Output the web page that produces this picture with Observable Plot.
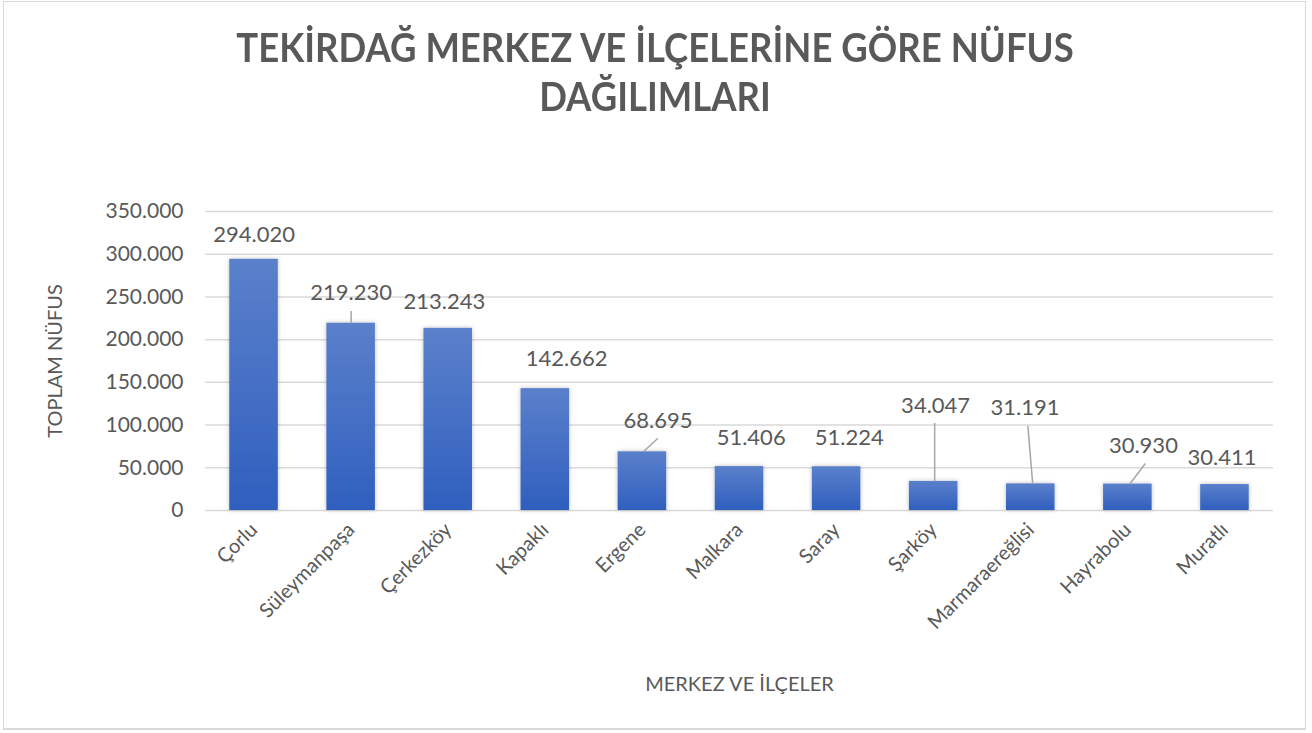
<!DOCTYPE html>
<html>
<head>
<meta charset="utf-8">
<script src="https://cdn.jsdelivr.net/npm/d3@7"></script>
<script src="https://cdn.jsdelivr.net/npm/@observablehq/plot@0.6"></script>
<style>
  html, body { margin: 0; padding: 0; background: #fff; }
  body { width: 1312px; height: 733px; position: relative; overflow: hidden; font-family: Lato, "Open Sans", sans-serif; }
  #frame { position: absolute; left: 3px; top: 1px; width: 1301px; height: 726px; border: 1px solid #d9d9d9; border-bottom: 2px solid #d9d9d9; box-sizing: content-box; }
  #title { position: absolute; left: 0; top: 22px; width: 1310px; text-align: center; font-family: Lato, sans-serif; font-weight: 700; font-size: 36.5px; line-height: 45px; color: #595959; transform: scaleY(1.1); transform-origin: 50% 0; }
  #chart { position: absolute; left: 0; top: 140px; }
</style>
</head>
<body>
<div id="frame"></div>
<div id="title">TEKİRDAĞ MERKEZ VE İLÇELERİNE GÖRE NÜFUS<br>DAĞILIMLARI</div>
<div id="chart"></div>
<script>
// Data
const districts = ["Çorlu", "Süleymanpaşa", "Çerkezköy", "Kapaklı", "Ergene", "Malkara", "Saray", "Şarköy", "Marmaraereğlisi", "Hayrabolu", "Muratlı"];
const population = [294020, 219230, 213243, 142662, 68695, 51406, 51224, 34047, 31191, 30930, 30411];
const yTicks = [0, 50000, 100000, 150000, 200000, 250000, 300000, 350000];
const yTitle = "TOPLAM NÜFUS";
const xTitle = "MERKEZ VE İLÇELER";

// Data-label placement (annotation layout, in data units: index offset, value)
const labelShift = [0, 0, -0.04, 0.22, 0.16, 0.12, 0.13, 0.02, -0.06, 0.16, -0.03];
const labelValue = [323000, 254500, 244000, 177500, 105000, 85500, 85000, 122500, 120500, 75000, 61000];
// leader lines: [index, startShift, startValue, endShift]
const leaders = [
  [1, 0, 233500, 0],
  [4, 0.16, 84500, 0.01],
  [7, 0.01, 102500, 0.01],
  [8, -0.03, 99000, 0.02],
  [9, 0.18, 55000, 0.02]
];

const fmt = v => d3.format(",")(v).replace(/,/g, ".");

const rows = districts.map((name, i) => ({
  i, name, value: population[i],
  lx: i + labelShift[i], ly: labelValue[i], label: fmt(population[i])
}));
const leaderRows = leaders.map(([i, s, v, e]) => ({x1: i + s, y1: v, x2: i + e, y2: population[i]}));

const textColor = "#595959";

const plot = Plot.plot({
  width: 1312,
  height: 580,
  marginLeft: 205,
  marginRight: 39,
  marginTop: 71,
  marginBottom: 210,
  style: {fontFamily: "Lato, 'Open Sans', sans-serif", color: textColor, background: "transparent"},
  x: {type: "linear", domain: [-0.5, districts.length - 0.5]},
  y: {domain: [0, 350000]},
  marks: [
    Plot.gridY(yTicks, {stroke: "#d9d9d9", strokeOpacity: 1, strokeWidth: 1.5}),
    Plot.axisY(yTicks, {tickSize: 0, tickPadding: 22, tickFormat: fmt, fontSize: 21, fill: textColor, label: null}),
    Plot.axisX(d3.range(districts.length), {
      tickSize: 0, tickPadding: 16, tickRotate: -45, tickFormat: i => districts[i],
      fontSize: 20, fill: textColor, label: null
    }),
    Plot.rectY(rows, {x1: d => d.i - 0.25, x2: d => d.i + 0.25, y: "value", fill: "url(#barGrad)"}),
    Plot.link(leaderRows, {x1: "x1", y1: "y1", x2: "x2", y2: "y2", stroke: "#a6a6a6", strokeWidth: 1.5}),
    Plot.text(rows, {x: "lx", y: "ly", text: "label", fontSize: 22, fill: textColor, lineAnchor: "middle", textAnchor: "middle"}),
    Plot.text([yTitle], {frameAnchor: "left", dx: -150, rotate: -90, fontSize: 20, fill: textColor, textAnchor: "middle"}),
    Plot.text([xTitle], {frameAnchor: "bottom", dy: 174, fontSize: 20, fill: textColor, textAnchor: "middle", lineAnchor: "middle"})
  ]
});

// gradient + shadow defs
const svg = d3.select(plot);
const defs = svg.insert("defs", ":first-child");
const g = defs.append("linearGradient").attr("id", "barGrad")
  .attr("gradientUnits", "objectBoundingBox").attr("x1", 0).attr("y1", 0).attr("x2", 0).attr("y2", 1);
g.append("stop").attr("offset", "0%").attr("stop-color", "#5b80cb");
g.append("stop").attr("offset", "100%").attr("stop-color", "#2f5fbe");
const f = defs.append("filter").attr("id", "barShadow").attr("x", "-20%").attr("y", "-20%").attr("width", "140%").attr("height", "140%");
f.append("feDropShadow").attr("dx", 0).attr("dy", 0).attr("stdDeviation", 2).attr("flood-color", "#000").attr("flood-opacity", 0.25);
svg.selectAll("g[aria-label='rect'] rect").attr("filter", "url(#barShadow)");

document.getElementById("chart").appendChild(plot);
</script>
</body>
</html>
